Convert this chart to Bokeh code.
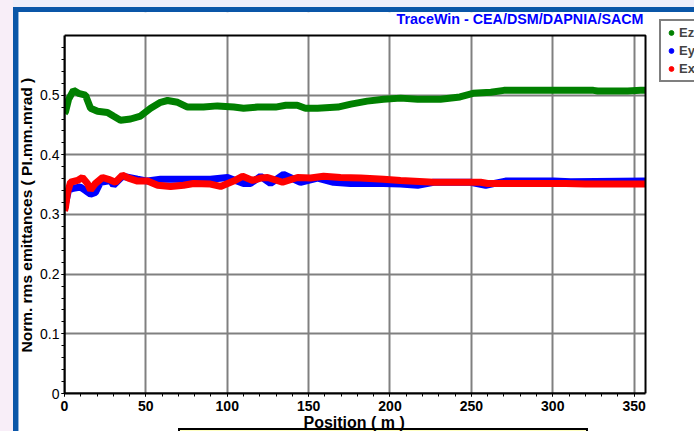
from bokeh.plotting import figure
from bokeh.models import (Range1d, FixedTicker, Legend, LegendItem, Label,
                          BoxAnnotation, Title)
from bokeh.embed import file_html
from bokeh.resources import INLINE

# ---- data ----
pos_z = [0, 0.6, 2.5, 5.5, 8.6, 12.9, 16, 20.3, 26.4, 30, 34.4, 40.6, 46.7, 52.9,
         59, 63.3, 69.5, 75.6, 85.4, 94, 104, 110, 118.6, 129.7, 136, 143, 148,
         155.5, 168, 176, 186, 196, 206.5, 217, 231, 243, 251, 262, 270, 300, 325,
         327.6, 346, 354, 357]
emit_z = [0.470, 0.472, 0.493, 0.508, 0.503, 0.500, 0.478, 0.473, 0.471, 0.465,
          0.458, 0.460, 0.465, 0.478, 0.488, 0.491, 0.488, 0.480, 0.480, 0.482,
          0.480, 0.478, 0.480, 0.480, 0.483, 0.483, 0.478, 0.478, 0.480, 0.485,
          0.490, 0.493, 0.495, 0.493, 0.493, 0.497, 0.503, 0.505, 0.508, 0.508,
          0.508, 0.507, 0.507, 0.508, 0.508]

pos_y = [0, 0.6, 2.5, 5.5, 9.8, 13, 16, 19, 22.1, 28.3, 30.1, 35.6, 44.9, 51, 59,
         89.7, 100.2, 110, 114.3, 120.5, 126.6, 134.6, 145, 155.5, 165.3, 175.8,
         196, 206.5, 217, 226.8, 249.5, 258.8, 271, 300.6, 311, 357]
emit_y = [0.310, 0.318, 0.341, 0.344, 0.346, 0.340, 0.334, 0.337, 0.354, 0.357,
          0.349, 0.364, 0.359, 0.356, 0.359, 0.359, 0.362, 0.352, 0.352, 0.364,
          0.352, 0.367, 0.354, 0.361, 0.354, 0.352, 0.352, 0.351, 0.349, 0.354,
          0.354, 0.349, 0.356, 0.356, 0.355, 0.356]

pos_x = [0, 0.6, 1.8, 3.7, 8, 11, 14.1, 16, 19, 23.4, 27, 31.3, 35.6, 39.3, 44.9,
         51, 57.2, 65.2, 73.1, 79.3, 89.7, 95.9, 103.9, 109.4, 115.6, 120.5, 124.8,
         134, 143.2, 151.2, 159.2, 169.6, 181.9, 196, 206.5, 226.8, 237.2, 255.7,
         260, 307.9, 320, 357]
emit_x = [0.306, 0.312, 0.336, 0.354, 0.357, 0.362, 0.352, 0.341, 0.352, 0.362,
          0.359, 0.354, 0.366, 0.361, 0.356, 0.356, 0.349, 0.347, 0.349, 0.352,
          0.351, 0.347, 0.356, 0.364, 0.357, 0.361, 0.362, 0.354, 0.362, 0.361,
          0.364, 0.362, 0.361, 0.359, 0.357, 0.354, 0.354, 0.354, 0.352, 0.352,
          0.351, 0.351]

x_ticks = [0, 50, 100, 150, 200, 250, 300, 350]
y_ticks = [0, 0.1, 0.2, 0.3, 0.4, 0.5]
x_minor = [0, 10, 20, 30, 40, 50, 60, 70, 80, 90, 100, 110, 120, 130, 140, 150, 160,
           170, 180, 190, 200, 210, 220, 230, 240, 250, 260, 270, 280, 290, 300, 310,
           320, 330, 340, 350]
y_minor = [0, 0.02, 0.04, 0.06, 0.08, 0.1, 0.12, 0.14, 0.16, 0.18, 0.2, 0.22, 0.24,
           0.26, 0.28, 0.3, 0.32, 0.34, 0.36, 0.38, 0.4, 0.42, 0.44, 0.46, 0.48, 0.5,
           0.52, 0.54, 0.56, 0.58]
x_axis_span = (0, 357)     # plotted x extent (m)
y_axis_span = (0, 0.6)     # plotted y extent

labels = ["Ez", "Ey", "Ex"]
colors = ["#008000", "#0000ff", "#ff0000"]
title_text = "TraceWin - CEA/DSM/DAPNIA/SACM"
x_label = "Position ( m )"
y_label = "Norm. rms emittances ( PI.mm.mrad )"

FONT = "Liberation Sans"


def solid(c):
    return f"linear-gradient({c},{c})"


layers = [
    (solid("#ffffc0"), "180px 430px", "406px 30px"),   # yellow caption box
    (solid("#000000"), "178px 428px", "410px 30px"),   # its border
    (solid("#f8eef8"), "0px 0px", "13px 100%"),         # outer left strip
    (solid("#eeeefa"), "0px 0px", "100% 7px"),          # outer top strip
    (solid("#0a56a8"), "13px 7px", "5px 100%"),         # blue frame left
    (solid("#0a56a8"), "13px 7px", "100% 5px"),         # blue frame top
    (solid("#8fb4dc"), "18px 12px", "1px 100%"),
]
styles = {
    "background-color": "white",
    "background-image": ", ".join(l[0] for l in layers),
    "background-position": ", ".join(l[1] for l in layers),
    "background-size": ", ".join(l[2] for l in layers),
    "background-repeat": "no-repeat",
}

# the frame reaches the window's right edge and the panel top, so the
# legend and the title (both outside the plotted box) are not clipped
p = figure(width=694, height=431, output_backend="svg", toolbar_location=None,
           title=None, x_range=Range1d(0, 387.1), y_range=Range1d(0, 0.6385),
           min_border_left=64, min_border_right=0, min_border_top=12,
           min_border_bottom=38, styles=styles)
p.border_fill_alpha = 0
p.background_fill_color = "white"
p.outline_line_color = None

p.xaxis.ticker = FixedTicker(ticks=x_ticks, minor_ticks=x_minor)
p.yaxis.ticker = FixedTicker(ticks=y_ticks, minor_ticks=y_minor)
p.xaxis.bounds = x_axis_span
p.yaxis.bounds = y_axis_span
for ax in (p.xaxis, p.yaxis):
    ax.axis_line_color = "black"
    ax.axis_line_width = 2
    ax.major_tick_in = 0
    ax.major_tick_out = 3
    ax.minor_tick_in = 0
    ax.minor_tick_out = 3
    ax.major_tick_line_color = "black"
    ax.minor_tick_line_color = "black"
    ax.major_label_text_font = FONT
    ax.major_label_text_color = "black"
    ax.major_label_text_font_size = "14px"
p.xaxis.major_label_text_font_style = "bold"
p.xaxis.major_label_standoff = 4
p.yaxis.major_label_standoff = 2

# axis titles, placed under / beside the plotted box (not the wider frame)
p.add_layout(Title(text=x_label, align="left", offset=239, standoff=-3,
                   text_font=FONT, text_font_style="bold", text_font_size="16px",
                   text_color="black"), "below")
p.add_layout(Title(text=y_label, align="left", offset=41, standoff=5,
                   text_font=FONT, text_font_style="bold",
                   text_font_size="15.5px", text_color="black"), "left")

for g in (p.xgrid, p.ygrid):
    g.grid_line_color = "#808080"
    g.grid_line_width = 2

p.line(pos_z, emit_z, color=colors[0], line_width=7)
p.line(pos_y, emit_y, color=colors[1], line_width=7)
p.line(pos_x, emit_x, color=colors[2], line_width=7)

# white panel outside the plotted box, then the box border
p.add_layout(BoxAnnotation(left=x_axis_span[1], fill_color="white", fill_alpha=1,
                           line_alpha=0))
p.add_layout(BoxAnnotation(bottom=y_axis_span[1], fill_color="white", fill_alpha=1,
                           line_alpha=0))
p.add_layout(BoxAnnotation(left=x_axis_span[0], right=x_axis_span[1],
                           bottom=y_axis_span[0], top=y_axis_span[1],
                           fill_alpha=0, line_color="black", line_alpha=1,
                           line_width=2))

# legend (dot markers)
dz = p.scatter(pos_z[:1], emit_z[:1], color=colors[0], size=5, visible=False)
dy = p.scatter(pos_y[:1], emit_y[:1], color=colors[1], size=5, visible=False)
dx = p.scatter(pos_x[:1], emit_x[:1], color=colors[2], size=5, visible=False)
leg = Legend(items=[LegendItem(label=labels[0], renderers=[dz]),
                    LegendItem(label=labels[1], renderers=[dy]),
                    LegendItem(label=labels[2], renderers=[dx])],
             location=(595, 311), margin=0, padding=4, spacing=3,
             glyph_width=12, glyph_height=15, label_height=15, label_standoff=2,
             label_text_font=FONT, label_text_font_style="bold",
             label_text_font_size="13px", border_line_color="black",
             border_line_width=2, background_fill_color="white",
             background_fill_alpha=1.0)
p.add_layout(leg)

p.add_layout(Label(x=643, y=18, x_units="canvas", y_units="canvas",
                   text=title_text, text_align="right", text_baseline="middle",
                   text_color="#0000ff", text_font=FONT, text_font_style="bold",
                   text_font_size="14.3px"))

open("out.html", "w").write(file_html(p, INLINE))
